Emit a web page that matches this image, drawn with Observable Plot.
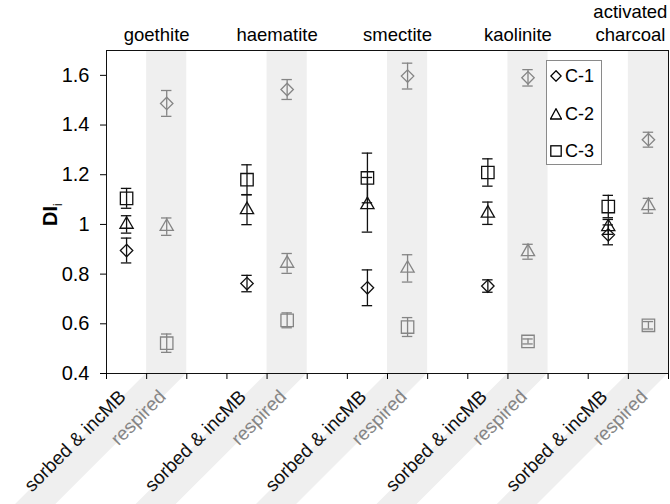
<!DOCTYPE html>
<html>
<head>
<meta charset="utf-8">
<script src="https://cdn.jsdelivr.net/npm/d3@7"></script>
<script src="https://cdn.jsdelivr.net/npm/@observablehq/plot@0.6"></script>
<style>
  body { margin: 0; background: #fff; font-family: "Liberation Sans", Arial, sans-serif; }
  #wrap { position: relative; width: 670px; height: 504px; }
  #legend { position: absolute; left: 546px; top: 60px; width: 56px; height: 105px; border: 1px solid #8a8a8a; background: #fff; box-sizing: border-box; }
  #legend .item { position: absolute; left: 3px; font-size: 18px; color: #000; display: flex; align-items: center; line-height: 18px; }
  #legend svg { margin-right: 3px; }
</style>
</head>
<body>
<div id="wrap"></div>
<script>
// ---- data ----
const minerals = ["goethite", "haematite", "smectite", "kaolinite", "activated\ncharcoal"];
const treatments = ["sorbed & incMB", "respired"];
const seriesNames = ["C-1", "C-2", "C-3"];

// sorbed & incMB
const c1Sorbed = [0.895, 0.762, 0.745, 0.752, 0.958];
const c1SorbedErr = [0.050, 0.033, 0.072, 0.025, 0.040];
const c2Sorbed = [1.000, 1.059, 1.079, 1.045, 0.990];
const c2SorbedErr = [0.035, 0.060, 0.110, 0.045, 0.030];
const c3Sorbed = [1.105, 1.180, 1.187, 1.209, 1.072];
const c3SorbedErr = [0.040, 0.060, 0.100, 0.055, 0.045];
// respired
const c1Respired = [1.487, 1.543, 1.597, 1.590, 1.341];
const c1RespiredErr = [0.052, 0.040, 0.052, 0.033, 0.030];
const c2Respired = [0.991, 0.843, 0.823, 0.890, 1.075];
const c2RespiredErr = [0.035, 0.040, 0.055, 0.030, 0.030];
const c3Respired = [0.522, 0.614, 0.587, 0.529, 0.594];
const c3RespiredErr = [0.037, 0.030, 0.038, 0.010, 0.015];

const yTicks = [0.4, 0.6, 0.8, 1.0, 1.2, 1.4, 1.6];

// ---- build table ----
const values = {
  "C-1": [c1Sorbed, c1Respired], "C-2": [c2Sorbed, c2Respired], "C-3": [c3Sorbed, c3Respired]
};
const errors = {
  "C-1": [c1SorbedErr, c1RespiredErr], "C-2": [c2SorbedErr, c2RespiredErr], "C-3": [c3SorbedErr, c3RespiredErr]
};
const slotsPerMineral = 3; // sorbed, respired, gap
const rows = [];
for (const s of seriesNames) {
  treatments.forEach((t, ti) => {
    minerals.forEach((m, mi) => {
      const v = values[s][ti][mi], e = errors[s][ti][mi];
      rows.push({series: s, treatment: t, mineral: m, slot: mi * slotsPerMineral + ti, value: v, lo: v - e, hi: v + e});
    });
  });
}
const nSlots = minerals.length * slotsPerMineral - 1;

const W = 670, H = 504, mL = 106, mR = 2, mT = 50, mB = 131;
const yDom = [0.4, 1.7];
const kx = (W - mL - mR) / nSlots;
const ky = (H - mT - mB) / (yDom[1] - yDom[0]);

const colorOf = t => t === "respired" ? "#858585" : "#111";
const bandFill = "#efefef";

const respSlots = minerals.map((m, mi) => mi * slotsPerMineral + 1);
const labelRows = [];
minerals.forEach((m, mi) => treatments.forEach((t, ti) => labelRows.push({slot: mi * slotsPerMineral + ti, text: t})));

// slanted bands below the axis
const yBottom = yDom[0] - mB / ky, shift = mB / kx;
const slantRows = [];
for (const s of respSlots) {
  slantRows.push({band: s, y: yDom[0], x1: s - 0.5, x2: s + 0.5});
  slantRows.push({band: s, y: yBottom, x1: s - 0.5 - shift, x2: s + 0.5 - shift});
}

const titleRows = minerals.map((m, mi) => ({x: mi * slotsPerMineral + 0.5, text: m}));
const symbolOf = {"C-1": "diamond2", "C-2": "triangle2", "C-3": "square2"};
const rOf = {"C-1": 5.6, "C-2": 6.3, "C-3": 7.9};
const capHalf = 0.13;

const marks = [
  Plot.rect(respSlots, {x1: d => d - 0.5, x2: d => d + 0.5, fill: bandFill}),
  Plot.areaX(slantRows, {y: "y", x1: "x1", x2: "x2", z: "band", fill: bandFill, curve: "linear"}),
  Plot.frame({stroke: "#111"}),
  Plot.axisY({ticks: yTicks, tickSize: 6, tickPadding: 11, fontSize: 20, tickFormat: d => String(+d.toFixed(1)), label: null}),
  Plot.axisX({ticks: d3.range(-0.5, nSlots + 0.5, 1), tickSize: 6, tickFormat: () => "", label: null}),
  Plot.ruleX(rows, {x: "slot", y1: "lo", y2: "hi", stroke: d => colorOf(d.treatment), strokeWidth: 1.3}),
  Plot.ruleY(rows, {y: "lo", x1: d => d.slot - capHalf, x2: d => d.slot + capHalf, stroke: d => colorOf(d.treatment), strokeWidth: 1.3}),
  Plot.ruleY(rows, {y: "hi", x1: d => d.slot - capHalf, x2: d => d.slot + capHalf, stroke: d => colorOf(d.treatment), strokeWidth: 1.3}),
  ...seriesNames.map(s => Plot.dot(rows.filter(d => d.series === s), {
    x: "slot", y: "value", symbol: () => symbolOf[s], r: rOf[s], fill: "none",
    stroke: d => colorOf(d.treatment), strokeWidth: 1.3
  })),
  Plot.text(labelRows, {x: "slot", text: "text", frameAnchor: "bottom", rotate: -45, textAnchor: "end", lineAnchor: "middle",
    dx: -4, dy: 20, fontSize: 19, fill: d => colorOf(d.text)}),
  Plot.text(titleRows.slice(0, 4), {x: "x", text: "text", frameAnchor: "top", lineAnchor: "bottom", dy: -10, dx: 10, fontSize: 18.5, fill: "#000"}),
  Plot.text(titleRows.slice(4), {x: "x", text: "text", frameAnchor: "top", lineAnchor: "bottom", dy: -10, dx: 2, fontSize: 18.5, lineHeight: 1.2, fill: "#000"}),
  Plot.text(["DI"], {frameAnchor: "left", rotate: -90, dx: -56, dy: 14, fontSize: 20, fontWeight: "bold", fill: "#000"})
];

const chart = Plot.plot({
  width: W, height: H,
  marginLeft: mL, marginRight: mR, marginTop: mT, marginBottom: mB,
  x: {domain: [-0.5, nSlots - 0.5], axis: null},
  y: {domain: yDom, axis: null},
  color: {type: "identity"},
  symbol: {type: "identity"},
  style: {fontFamily: '"Liberation Sans", Arial, sans-serif', color: "#000", background: "#fff", overflow: "visible"},
  marks
});
const wrap = document.getElementById("wrap");
wrap.appendChild(chart);

// subscript on the y label
d3.select(chart).selectAll("text").filter(function() { return this.textContent === "DI"; }).each(function() {
  const t = d3.select(this);
  t.append("tspan").attr("dy", "5").attr("font-size", "12").attr("font-weight", "normal").text("i");
});

// legend
const legend = document.createElement("div");
legend.id = "legend";
const legendShapes = {
  "C-1": '<path d="M6,0.8 L11.2,6 L6,11.2 L0.8,6 Z" fill="none" stroke="#000" stroke-width="1.3"/>',
  "C-2": '<path d="M6,0.8 L11.5,11 L0.5,11 Z" fill="none" stroke="#000" stroke-width="1.3"/>',
  "C-3": '<rect x="0.8" y="0.8" width="10.4" height="10.4" fill="none" stroke="#000" stroke-width="1.3"/>'
};
seriesNames.forEach((s, i) => {
  const it = document.createElement("div");
  it.className = "item";
  it.style.top = (6 + i * 37.5) + "px";
  it.innerHTML = `<svg width="12" height="12" viewBox="0 0 12 12">${legendShapes[s]}</svg><span>${s}</span>`;
  legend.appendChild(it);
});
wrap.appendChild(legend);
</script>
</body>
</html>
